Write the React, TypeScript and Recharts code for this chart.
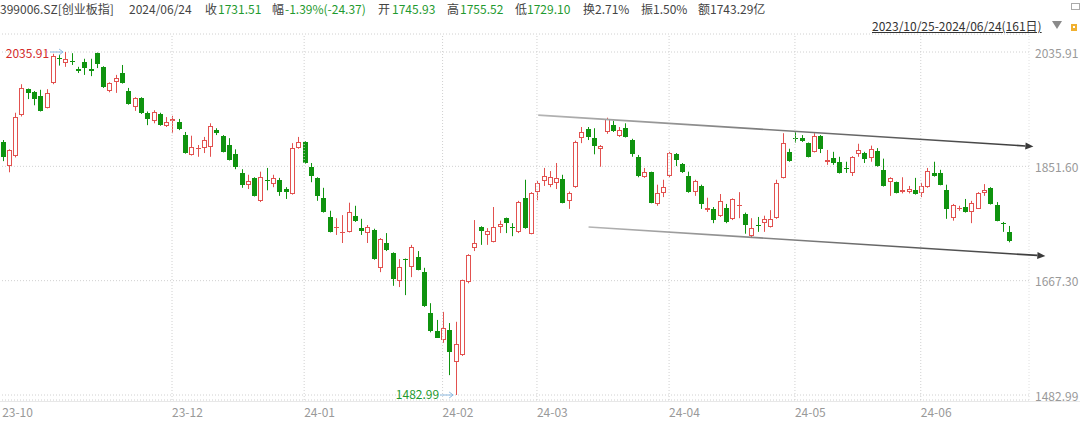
import React from 'react';
import { ComposedChart, Bar, XAxis, YAxis, CartesianGrid, ReferenceLine, ReferenceDot } from 'recharts';

// trading days per month, 2023/10/25 - 2024/06/24 (161)
const monthDays: [string, number[]][] = [
  ['2023-10', [25, 26, 27, 30, 31]],
  ['2023-11', [1, 2, 3, 6, 7, 8, 9, 10, 13, 14, 15, 16, 17, 20, 21, 22, 23, 24, 27, 28, 29, 30]],
  ['2023-12', [1, 4, 5, 6, 7, 8, 11, 12, 13, 14, 15, 18, 19, 20, 21, 22, 25, 26, 27, 28, 29]],
  ['2024-01', [2, 3, 4, 5, 8, 9, 10, 11, 12, 15, 16, 17, 18, 19, 22, 23, 24, 25, 26, 29, 30, 31]],
  ['2024-02', [1, 2, 5, 6, 7, 8, 19, 20, 21, 22, 23, 26, 27, 28, 29]],
  ['2024-03', [1, 4, 5, 6, 7, 8, 11, 12, 13, 14, 15, 18, 19, 20, 21, 22, 25, 26, 27, 28, 29]],
  ['2024-04', [1, 2, 3, 8, 9, 10, 11, 12, 15, 16, 17, 18, 19, 22, 23, 24, 25, 26, 29, 30]],
  ['2024-05', [6, 7, 8, 9, 10, 13, 14, 15, 16, 17, 20, 21, 22, 23, 24, 27, 28, 29, 30, 31]],
  ['2024-06', [3, 4, 5, 6, 7, 11, 12, 13, 14, 17, 18, 19, 20, 21, 24]],
];

const openPrices = [
  1891, 1852, 1868, 1934, 1976, 1971, 1965, 1946, 1986, 2026,
  2018, 2021, 2008, 2020, 2008, 2034, 2012, 1973, 1988, 2002,
  1973, 1947, 1962, 1938, 1925, 1936, 1917, 1925, 1923, 1902,
  1870, 1879, 1881, 1883, 1910, 1901, 1886, 1871, 1841, 1822,
  1833, 1796, 1830, 1823, 1830, 1815, 1807, 1881, 1891, 1851,
  1833, 1801, 1770, 1752, 1744, 1746, 1771, 1752, 1744, 1749,
  1688, 1728, 1712, 1667, 1702, 1690, 1706, 1681, 1615, 1586,
  1572, 1588, 1536, 1548, 1665, 1720, 1754, 1741, 1730, 1754,
  1768, 1754, 1746, 1801, 1743, 1810, 1828, 1822, 1825, 1831,
  1796, 1818, 1897, 1912, 1897, 1880, 1907, 1918, 1900, 1913,
  1894, 1867, 1834, 1842, 1791, 1809, 1836, 1871, 1855, 1836,
  1810, 1820, 1781, 1783, 1772, 1785, 1767, 1787, 1775, 1739,
  1757, 1760, 1754, 1768, 1833, 1875, 1898, 1897, 1889, 1875,
  1901, 1859, 1865, 1859, 1849, 1841, 1872, 1873, 1865, 1876,
  1846, 1826, 1826, 1810, 1810, 1813, 1809, 1818, 1841, 1841,
  1813, 1768, 1783, 1786, 1778, 1783, 1809, 1817, 1789, 1760,
  1745.93,
];
const highPrices = [
  1894, 1879, 1938, 1984, 1977, 1973, 1975, 1976, 2033, 2031,
  2035.91, 2034, 2012, 2025, 2025, 2035, 2013, 1987, 1999, 2015,
  1978, 1963, 1963, 1940, 1942, 1938, 1931, 1933, 1928, 1907,
  1901, 1886, 1899, 1921, 1913, 1902, 1897, 1879, 1847, 1838,
  1834, 1843, 1849, 1838, 1833, 1818, 1889, 1899, 1892, 1857,
  1834, 1817, 1780, 1768, 1773, 1793, 1788, 1767, 1757, 1751,
  1736, 1744, 1713, 1702, 1703, 1725, 1715, 1688, 1631, 1604,
  1617, 1599, 1601, 1669, 1710, 1765, 1755, 1752, 1786, 1764,
  1769, 1760, 1796, 1830, 1810, 1828, 1849, 1844, 1857, 1838,
  1811, 1893, 1915, 1915, 1913, 1886, 1930, 1925, 1915, 1921,
  1896, 1870, 1849, 1843, 1822, 1830, 1875, 1873, 1857, 1843,
  1830, 1822, 1801, 1786, 1807, 1791, 1800, 1810, 1777, 1768,
  1770, 1772, 1781, 1830, 1905, 1880, 1907, 1902, 1890, 1905,
  1902, 1878, 1875, 1867, 1859, 1868, 1888, 1875, 1885, 1881,
  1864, 1834, 1827, 1834, 1820, 1833, 1825, 1849, 1859, 1846,
  1822, 1791, 1788, 1799, 1796, 1810, 1823, 1818, 1794, 1762,
  1755.52,
];
const lowPrices = [
  1860, 1842, 1866, 1932, 1960, 1950, 1940, 1945, 1984, 2014,
  2012, 2015, 2002, 1999, 1997, 2010, 1978, 1971, 1970, 1985,
  1951, 1941, 1936, 1918, 1921, 1917, 1915, 1905, 1910, 1872,
  1869, 1867, 1873, 1867, 1902, 1874, 1861, 1847, 1817, 1815,
  1803, 1794, 1813, 1818, 1804, 1799, 1806, 1880, 1856, 1826,
  1796, 1777, 1745, 1741, 1728, 1745, 1762, 1741, 1728, 1701,
  1681, 1715, 1659, 1657, 1644, 1673, 1684, 1625, 1584, 1575,
  1567, 1515, 1482.99, 1546, 1663, 1715, 1725, 1725, 1729, 1744,
  1744, 1739, 1744, 1751, 1742, 1797, 1820, 1818, 1815, 1792,
  1783, 1817, 1889, 1894, 1871, 1851, 1904, 1907, 1899, 1898,
  1867, 1834, 1833, 1792, 1788, 1802, 1834, 1852, 1841, 1809,
  1804, 1783, 1778, 1760, 1770, 1760, 1765, 1768, 1743, 1736,
  1746, 1746, 1753, 1767, 1832, 1859, 1890, 1891, 1866, 1874,
  1873, 1854, 1854, 1840, 1841, 1836, 1867, 1857, 1859, 1851,
  1819, 1804, 1808, 1808, 1808, 1806, 1802, 1817, 1835, 1821,
  1767, 1764, 1780, 1777, 1760, 1783, 1804, 1790, 1763, 1746,
  1729.10,
];
const closePrices = [
  1867, 1878, 1931, 1978, 1970, 1960, 1941, 1970, 2030, 2024,
  2025, 2019, 2006, 2010, 2005, 2016, 1980, 1986, 1994, 1986,
  1952, 1962, 1938, 1928, 1939, 1918, 1923, 1928, 1912, 1873,
  1883, 1881, 1894, 1917, 1905, 1875, 1862, 1851, 1822, 1828,
  1804, 1835, 1828, 1833, 1810, 1810, 1881, 1891, 1857, 1836,
  1804, 1778, 1746, 1754, 1746, 1778, 1763, 1747, 1754, 1702,
  1735, 1717, 1670, 1690, 1700, 1722, 1685, 1626, 1586, 1575,
  1591, 1552, 1565, 1668, 1709, 1728, 1747, 1747, 1754, 1759,
  1760, 1753, 1794, 1752, 1809, 1825, 1836, 1835, 1833, 1793,
  1809, 1891, 1907, 1899, 1884, 1884, 1928, 1909, 1910, 1899,
  1871, 1836, 1842, 1793, 1809, 1818, 1873, 1862, 1843, 1810,
  1828, 1791, 1784, 1765, 1796, 1762, 1799, 1789, 1757, 1752,
  1755, 1767, 1767, 1825, 1889, 1860, 1896, 1892, 1867, 1901,
  1880, 1862, 1857, 1841, 1847, 1867, 1878, 1863, 1880, 1852,
  1820, 1833, 1809, 1813, 1815, 1807, 1820, 1844, 1836, 1822,
  1783, 1789, 1785, 1778, 1793, 1809, 1814, 1791, 1764, 1758,
  1731.51,
];

const axisTicks = ['2023-10-25', '2023-12-01', '2024-01-02', '2024-02-01', '2024-03-01', '2024-04-01', '2024-05-06', '2024-06-03'];
const priceTicks = [1482.99, 1667.3, 1851.6, 2035.91];

const highMark = { date: '2023-11-08', value: 2035.91 };
const lowMark = { date: '2024-02-05', value: 1482.99 };

// hand-drawn channel, in bar index / price units
const channelLines = [
  { x1: 85.2, y1: 1934.3, x2: 163.9, y2: 1883.6 },
  { x1: 93.2, y1: 1753.8, x2: 165.8, y2: 1707.1 },
];

const quoteItems = [
  { x: 0, text: '399006.SZ[创业板指]', green: false },
  { x: 129, text: '2024/06/24', green: false },
  { x: 205, text: '收', green: false },
  { x: 218, text: '1731.51', green: true },
  { x: 272, text: '幅', green: false },
  { x: 285, text: '-1.39%(-24.37)', green: true },
  { x: 378, text: '开', green: false },
  { x: 392, text: '1745.93', green: true },
  { x: 447, text: '高', green: false },
  { x: 460, text: '1755.52', green: true },
  { x: 515, text: '低', green: false },
  { x: 527, text: '1729.10', green: true },
  { x: 583, text: '换2.71%', green: false },
  { x: 641, text: '振1.50%', green: false },
  { x: 698, text: '额1743.29亿', green: false },
];

const dates: string[] = [];
monthDays.forEach(([m, days]) => days.forEach((d) => dates.push(`${m}-${String(d).padStart(2, '0')}`)));

const rows = dates.map((date, i) => ({
  i,
  date,
  open: openPrices[i],
  high: highPrices[i],
  low: lowPrices[i],
  close: closePrices[i],
}));

const RED = '#e2514f';
const GREEN = '#0f930f';
const FONT = '"Noto Sans CJK SC", "Noto Sans", sans-serif';

const PLOT_W = 1030;
const PAD_R = 17;
const band = (PLOT_W - PAD_R) / rows.length;
const numDomain = [-0.5, PLOT_W / band - 0.5];

const Candle = (props: any) => {
  const { x, y, width, height, payload } = props;
  const { open, close, high, low } = payload;
  const top = Math.min(y, y + height);
  const h = Math.abs(height);
  const per = high === low ? 0 : h / (high - low);
  const toY = (v: number) => top + (high - v) * per;
  const cx = Math.round(x + width / 2) + 0.5;
  const up = close >= open;
  const color = up ? RED : GREEN;
  const bTop = Math.round(toY(Math.max(open, close)));
  const bBot = Math.max(Math.round(toY(Math.min(open, close))), bTop + 1);
  return (
    <g>
      <line x1={cx} x2={cx} y1={toY(high)} y2={toY(low)} stroke={color} strokeWidth={1} />
      {bBot - bTop <= 1 ? (
        <line x1={cx - 2.5} x2={cx + 2.5} y1={bTop + 0.5} y2={bTop + 0.5} stroke={color} strokeWidth={1} />
      ) : up ? (
        <rect x={cx - 2} y={bTop + 0.5} width={4} height={bBot - bTop - 1} fill="#fff" stroke={color} strokeWidth={1} />
      ) : (
        <rect x={cx - 2.5} y={bTop} width={5} height={bBot - bTop} fill={color} />
      )}
    </g>
  );
};

const ChannelLine = (props: any) => {
  const { x1, y1, x2, y2, id } = props;
  const ang = Math.atan2(y2 - y1, x2 - x1);
  const len = 8;
  const wing = 3.5;
  const bx = x2 - len * Math.cos(ang);
  const by = y2 - len * Math.sin(ang);
  const px = -Math.sin(ang) * wing;
  const py = Math.cos(ang) * wing;
  return (
    <g>
      <defs>
        <linearGradient id={id} gradientUnits="userSpaceOnUse" x1={x1} y1={y1} x2={x2} y2={y2}>
          <stop offset="0%" stopColor="#b4b4b4" />
          <stop offset="100%" stopColor="#3a3a3a" />
        </linearGradient>
      </defs>
      <line x1={x1} y1={y1} x2={bx} y2={by} stroke={`url(#${id})`} strokeWidth={1.7} />
      <polygon points={`${x2},${y2} ${bx + px},${by + py} ${bx - px},${by - py}`} fill="#3a3a3a" />
    </g>
  );
};

const ExtremeLabel = (props: any) => {
  const { cx, cy, color, text, dy } = props;
  const ax = cx - 2;
  return (
    <g>
      <text x={cx - 16} y={cy + dy} textAnchor="end" dominantBaseline="central" fill={color} fontSize={12} fontFamily={FONT}>
        {text}
      </text>
      <line x1={cx - 15} y1={cy} x2={ax} y2={cy} stroke="#8ab8e0" strokeWidth={1} />
      <polyline points={`${ax - 4},${cy - 3} ${ax},${cy} ${ax - 4},${cy + 3}`} fill="none" stroke="#8ab8e0" strokeWidth={1} />
    </g>
  );
};

const MonthTick = (props: any) => {
  const { x, payload } = props;
  return (
    <text x={x} y={411} textAnchor="start" dominantBaseline="central" fill="#999" fontSize={12} fontFamily={FONT}>
      {String(payload.value).slice(2, 7)}
    </text>
  );
};

const PriceTick = (props: any) => {
  const { y, payload } = props;
  return (
    <text x={1036} y={y} textAnchor="start" dominantBaseline="central" fill="#999" fontSize={12} fontFamily={FONT}>
      {Number(payload.value).toFixed(2)}
    </text>
  );
};

export default function App() {
  return (
    <div style={{ position: 'absolute', left: 0, top: 0, width: 1080, height: 424, background: '#fff', overflow: 'hidden', fontFamily: FONT }}>
      {quoteItems.map((q) => (
        <div
          key={q.x}
          style={{ position: 'absolute', left: q.x, top: 0, fontSize: 12, lineHeight: 'normal', whiteSpace: 'nowrap', color: q.green ? '#1f9a2f' : '#444' }}
        >
          {q.text}
        </div>
      ))}
      <div style={{ position: 'absolute', left: 872, top: 17, fontSize: 12, lineHeight: 'normal', color: '#333', textDecoration: 'underline', whiteSpace: 'nowrap' }}>
        2023/10/25-2024/06/24(161日)
      </div>
      <svg style={{ position: 'absolute', left: 1050, top: 0 }} width={30} height={34}>
        <polygon points="2,21 12,21 7,29" fill="#8a8a8a" />
        <rect x={21.5} y={3.5} width={8} height={6} fill="none" stroke="#aaa" />
        <rect x={21} y={24} width={6} height={7} fill="#f0b030" />
        <rect x={23} y={26} width={2} height={2} fill="#fff" />
      </svg>
      <div style={{ position: 'absolute', left: 0, top: 401, width: 1080, height: 1, background: '#e8e8e8' }} />
      <div style={{ position: 'absolute', left: -1, top: 0 }}>
        <ComposedChart width={1080} height={424} data={rows} margin={{ top: 34, right: 0, bottom: 0, left: 0 }}>
          <CartesianGrid vertical={false} stroke="#d0d0d0" strokeDasharray="1 2" />
          <XAxis
            dataKey="date"
            ticks={axisTicks}
            interval={0}
            tick={<MonthTick />}
            tickLine={false}
            axisLine={false}
            height={24}
            padding={{ left: 0, right: PAD_R }}
          />
          <XAxis xAxisId="num" type="number" dataKey="i" domain={numDomain} allowDataOverflow hide />
          <YAxis
            orientation="right"
            domain={[1474.93, 2064.93]}
            ticks={priceTicks}
            interval={0}
            tick={<PriceTick />}
            tickLine={false}
            axisLine={false}
            width={50}
            allowDataOverflow
          />
          {axisTicks.slice(1).map((d) => (
            <ReferenceLine key={d} x={d} stroke="#d0d0d0" strokeDasharray="1 2" />
          ))}
          <ReferenceLine xAxisId="num" x={numDomain[1]} stroke="#e0e0e0" strokeDasharray="1 2" ifOverflow="visible" />
          <Bar dataKey={(d: any) => [d.low, d.high]} barSize={5} shape={<Candle />} isAnimationActive={false} />
          {channelLines.map((c, k) => (
            <ReferenceLine
              key={k}
              xAxisId="num"
              ifOverflow="visible"
              segment={[{ x: c.x1, y: c.y1 }, { x: c.x2, y: c.y2 }]}
              shape={(p: any) => <ChannelLine {...p} id={`chan${k}`} />}
            />
          ))}
          <ReferenceDot
            x={highMark.date}
            y={highMark.value}
            ifOverflow="visible"
            shape={(p: any) => <ExtremeLabel {...p} color="#d42b2b" text="2035.91" dy={0} />}
          />
          <ReferenceDot
            x={lowMark.date}
            y={lowMark.value}
            ifOverflow="visible"
            shape={(p: any) => <ExtremeLabel {...p} color="#1f9a2f" text="1482.99" dy={-2} />}
          />
        </ComposedChart>
      </div>
    </div>
  );
}
